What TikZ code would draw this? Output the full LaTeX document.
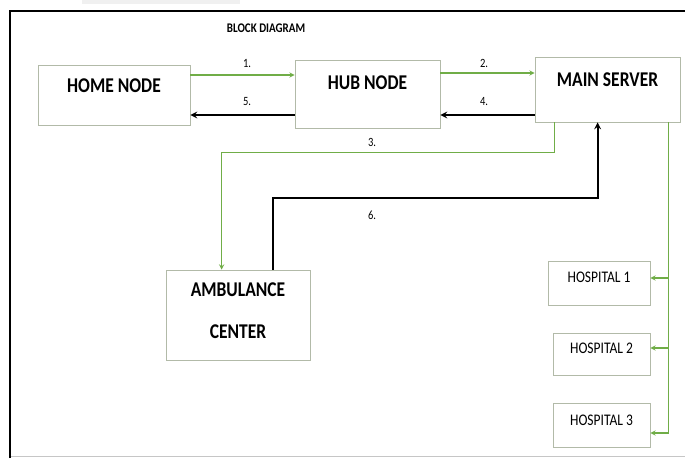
\documentclass[tikz,border=0pt]{standalone}
\usepackage{graphicx}
\usepackage{fontspec}
\setmainfont{Carlito}
\definecolor{ogreen}{RGB}{112,173,71}
\definecolor{boxgray}{RGB}{178,186,168}
\newcommand{\tall}[1]{\scalebox{1}[1.2]{#1}}

\begin{document}
\begin{tikzpicture}[x=1pt,y=-1pt,>=stealth,
  block/.style={draw=boxgray,line width=0.8pt,inner sep=0pt},
  bigtext/.style={font=\fontsize{17.5}{21}\selectfont\bfseries},
  hosptext/.style={font=\fontsize{13.5}{15}\selectfont},
  num/.style={font=\fontsize{10.5}{12}\selectfont},
  gline/.style={draw=ogreen,line width=1.3pt},
  bline/.style={draw=black,line width=2pt}]
\useasboundingbox (0,0) rectangle (685,458);
\fill[gray!12] (82,0) rectangle (240,4);
% frame
\draw[gray!45,line width=1pt] (10,456.5)--(685,456.5);
\draw[line width=2.5pt] (10,458)--(10,11)--(686,11);
\node[font=\fontsize{11}{12}\selectfont\bfseries] (title) at (266,28) {\tall{BLOCK DIAGRAM}};

% boxes
\node[block,minimum width=152,minimum height=60] (home) at (114,95) {};
\node[block,minimum width=145,minimum height=68] (hub) at (367.5,94) {};
\node[block,minimum width=145,minimum height=65] (server) at (607.5,89.5) {};
\node[block,minimum width=144,minimum height=90] (amb) at (238,315) {};
\node[block,minimum width=102,minimum height=44] (h1) at (599,283) {};
\node[block,minimum width=97,minimum height=42] (h2) at (601.5,354) {};
\node[block,minimum width=97,minimum height=44] (h3) at (601.5,425) {};

\node[bigtext] (hometext) at ([yshift=9pt]home.center) {\tall{HOME NODE}};
\node[bigtext] (hubtext) at ([yshift=11pt]hub.center) {\tall{HUB NODE}};
\node[bigtext] (servertext) at ([yshift=10pt]server.center) {\tall{MAIN SERVER}};
\node[bigtext,align=center] (ambtext) at ([yshift=4pt]amb.center) {\tall{AMBULANCE}\\[21pt]\tall{CENTER}};
\node[hosptext] (h1text) at ([yshift=6pt]h1.center) {\tall{HOSPITAL 1}};
\node[hosptext] (h2text) at ([yshift=6pt]h2.center) {\tall{HOSPITAL 2}};
\node[hosptext] (h3text) at ([yshift=5pt]h3.center) {\tall{HOSPITAL 3}};

% arrows between the nodes
\draw[gline,->] ([yshift=20pt]home.east) -- ([yshift=20pt]home.east -| hub.west);
\draw[bline,->] ([yshift=-21pt]hub.west) -- ([yshift=-21pt]hub.west -| home.east);
\draw[gline,->] ([yshift=21pt]hub.east) -- ([yshift=21pt]hub.east -| server.west);
\draw[bline,->] ([yshift=-21pt]hub.east -| server.west) -- ([yshift=-21pt]hub.east);
\draw[gline,->] ([xshift=20pt]server.south west) -- ++(0,30) -| ([xshift=56pt]amb.north west);
\draw[bline,->] ([xshift=35pt]amb.north) -- ++(0,-72) -| ([xshift=63pt]server.south west);

\node[num] (n1) at (247,63) {\tall{1.}};
\node[num] (n5) at (247,102) {\tall{5.}};
\node[num] (n2) at (484,63) {\tall{2.}};
\node[num] (n4) at (484,102) {\tall{4.}};
\node[num] (n3) at (372,142) {\tall{3.}};
\node[num] (n6) at (372,215) {\tall{6.}};

% hospitals
\draw[gline,->] ([xshift=-12pt]server.south east) |- ([yshift=-8pt]h3.east);
\draw[gline,->] ([xshift=-12pt]server.south east |- h1.east) ++(0,-5) -- ([yshift=5pt]h1.east);
\draw[gline,->] ([xshift=-12pt]server.south east |- h2.east) ++(0,-6) -- ([yshift=6pt]h2.east);

\end{tikzpicture}
\end{document}
